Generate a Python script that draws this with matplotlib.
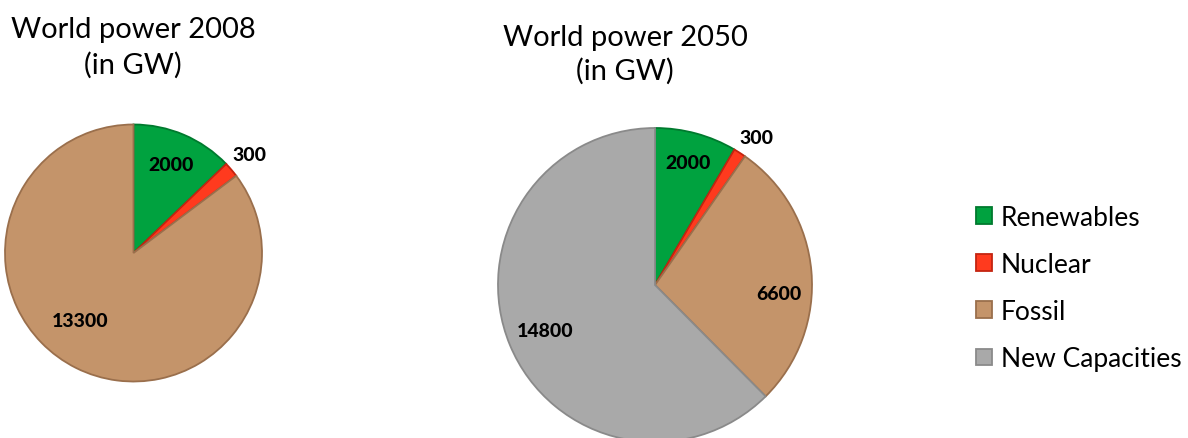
import numpy as np
import matplotlib
matplotlib.use('Agg')
import matplotlib.pyplot as plt

plt.rcParams['font.family'] = ['Lato', 'DejaVu Sans']

# data
categories = ['Renewables', 'Nuclear', 'Fossil', 'New Capacities']
colors = ['#00a23f', '#ff3a1e', '#c4946a', '#a9a9a9']
edge_colors = ['#007a2e', '#c42410', '#9a6f4c', '#8a8a8a']

values_2008 = [2000, 300, 13300]
values_2050 = [2000, 300, 6600, 14800]
title_2008 = 'World power 2008\n(in GW)'
title_2050 = 'World power 2050\n(in GW)'

# label placement (radial distance, angle tweak in degrees)
lab_dist_2008 = [0.75, 1.18, 0.67]
lab_shift_2008 = [0, 0, 12]
lab_dist_2050 = [0.81, 1.14, 0.79, 0.76]
lab_shift_2050 = [0, 2, 9, 0]

W, H = 1188, 439
fig = plt.figure(figsize=[W / 100, H / 100], dpi=100)


def make_pie(cx, cy, r, values, dists, shifts):
    ax = fig.add_axes([(cx - r) / W, (H - cy - r) / H, 2 * r / W, 2 * r / H])
    n = len(values)
    wedges, _ = ax.pie(values, colors=colors[:n], startangle=90, counterclock=False,
                       wedgeprops=dict(linewidth=1.3))
    for i, w in enumerate(wedges):
        w.set_edgecolor(edge_colors[i])
        w.set_clip_on(False)
    ax.set_xlim(-1, 1)
    ax.set_ylim(-1, 1)
    ax.set_aspect('equal')
    total = float(sum(values))
    start = 0.0
    for i, v in enumerate(values):
        mid = start + 360 * v / total / 2 + shifts[i]
        ang = np.deg2rad(90 - mid)
        ax.text(dists[i] * np.cos(ang), dists[i] * np.sin(ang), str(v),
                ha='center', va='center', fontsize=14, fontweight='black', color='black')
        start += 360 * v / total
    return wedges


make_pie(133.5, 254, 128.5, values_2008, lab_dist_2008, lab_shift_2008)
wedges = make_pie(655, 286, 157, values_2050, lab_dist_2050, lab_shift_2050)

fig.text(133 / W, 1 - 48 / H, title_2008, ha='center', va='center', fontsize=21,
         linespacing=1.4)
fig.text(625 / W, 1 - 55 / H, title_2050, ha='center', va='center', fontsize=21,
         linespacing=1.3)

leg = fig.legend(wedges, categories, loc='center left', bbox_to_anchor=(976 / W, 1 - 289 / H),
                 frameon=False, fontsize=19, handlelength=0.6, handleheight=0.6,
                 handletextpad=0.35, labelspacing=0.84, borderpad=0, borderaxespad=0)

fig.savefig('out.png', dpi=100)
